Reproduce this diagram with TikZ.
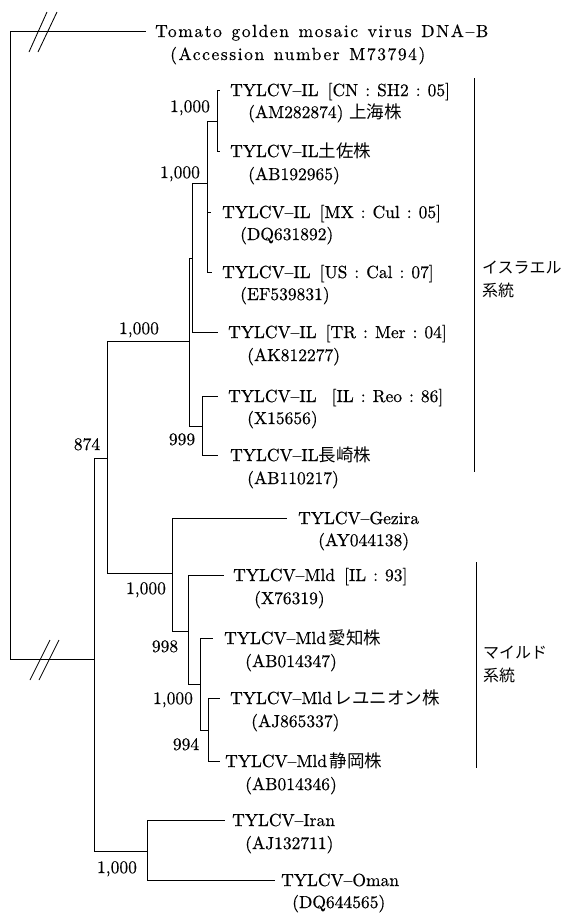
\documentclass[tikz,border=0pt]{standalone}
\usepackage{fontspec}
\newfontfamily\cjk{Noto Sans CJK JP}
\newfontfamily\lmb[FakeBold=0.5]{lmroman10-regular.otf}
\newfontfamily\lmw[FakeBold=0.5,LetterSpace=9,WordSpace=1.3]{lmroman10-regular.otf}
\newcommand{\cl}{\hspace{7pt}:\hspace{7pt}}
\newcommand{\lb}{\hspace{9pt}[}
\newcommand{\rb}{]}
\begin{document}
\begin{tikzpicture}[x=1pt,y=-1pt,
  branch/.style={line width=0.85pt, line join=miter},
  txt/.style={font={\lmb\fontsize{17.5}{21}\selectfont}, inner sep=0pt, text height=12pt, text depth=0pt},
  leaf/.style={txt, anchor=west},
  wide/.style={leaf, font={\lmw\fontsize{17.5}{21}\selectfont}},
  boot/.style={txt, anchor=center},
  tag/.style={txt, anchor=west, font=\cjk\fontsize{16}{21}\selectfont}]
\useasboundingbox (0,0) rectangle (576,913);

% ---------- leaf labels ----------
\node[wide] (tom)   at (155,31)  {Tomato golden mosaic virus DNA–B};
\node[wide] (tomA)  at (170,54)  {(Accession number M73794)};
\node[leaf] (sh2)   at (230,90)  {TYLCV–IL\lb CN\cl SH2\cl 05\rb};
\node[leaf] (sh2A)  at (248,112) {(AM282874)\hspace{6pt}{\cjk 上海株}};
\node[leaf] (tosa)  at (230,151) {TYLCV–IL{\cjk 土佐株}};
\node[leaf] (tosaA) at (248,174) {(AB192965)};
\node[leaf] (mx)    at (222,212) {TYLCV–IL\lb MX\cl Cul\cl 05\rb};
\node[leaf] (mxA)   at (240,234) {(DQ631892)};
\node[leaf] (us)    at (222,272) {TYLCV–IL\lb US\cl Cal\cl 07\rb};
\node[leaf] (usA)   at (240,294) {(EF539831)};
\node[leaf] (tr)    at (228,332) {TYLCV–IL\lb TR\cl Mer\cl 04\rb};
\node[leaf] (trA)   at (247,355) {(AK812277)};
\node[leaf] (reo)   at (228,396) {TYLCV–IL\hspace{6pt}\lb IL\cl Reo\cl 86\rb};
\node[leaf] (reoA)  at (247,418) {(X15656)};
\node[leaf] (naga)  at (230,455) {TYLCV–IL{\cjk 長崎株}};
\node[leaf] (nagaA) at (247,478) {(AB110217)};
\node[leaf] (gez)   at (298,518) {TYLCV–Gezira};
\node[leaf] (gezA)  at (318,540) {(AY044138)};
\node[leaf] (il93)  at (233,575) {TYLCV–Mld\lb IL\cl 93\rb};
\node[leaf] (il93A) at (254,598) {(X76319)};
\node[leaf] (aichi) at (224,638) {TYLCV–Mld\,{\cjk 愛知株}};
\node[leaf] (aichiA)at (245,661) {(AB014347)};
\node[leaf] (reu)   at (230,698) {TYLCV–Mld\,{\cjk レユニオン株}};
\node[leaf] (reuA)  at (251,721) {(AJ865337)};
\node[leaf] (shz)   at (225,761) {TYLCV–Mld\,{\cjk 静岡株}};
\node[leaf] (shzA)  at (245,784) {(AB014346)};
\node[leaf] (iran)  at (232,820) {TYLCV–Iran};
\node[leaf] (iranA) at (245,843) {(AJ132711)};
\node[leaf] (oman)  at (281,880) {TYLCV–Oman};
\node[leaf] (omanA) at (292,902) {(DQ644565)};

% ---------- internal nodes ----------
\coordinate (R) at (10,345);
\coordinate (A) at (94,659);
\coordinate (B) at (107,458);
\coordinate (C) at (189,341);
\coordinate (F) at (192,258);
\coordinate (E) at (207,183);
\coordinate (H) at (217,121);
\coordinate (G) at (202,426);
\coordinate (I) at (172,573);
\coordinate (K) at (188,631);
\coordinate (L) at (200,684);
\coordinate (M) at (208,730);
\coordinate (J) at (147,851);

% ---------- branches ----------
\draw[branch] (R) |- ([xshift=-9pt]tom.west);
\draw[branch] (R) |- (A);
\draw[branch] (A) |- (B);
\draw[branch] (A) |- (J);
\draw[branch] (B) |- (C);
\draw[branch] (B) |- (I);
\draw[branch] (C) |- (F);
\draw[branch] (C) |- (G);
\draw[branch] (F) |- (E);
\draw[branch] (F) |- ([xshift=-10pt]tr.west);
\draw[branch] (E) |- (H);
\draw[branch] (E) |- ([xshift=-11pt]mx.west);
\draw[branch] (E) |- ([xshift=-10pt]us.west);
\draw[branch] (H) |- ([xshift=-10pt]sh2.west);
\draw[branch] (H) |- ([xshift=-10pt]tosa.west);
\draw[branch] (G) |- ([xshift=-10pt]reo.west);
\draw[branch] (G) |- ([xshift=-12pt]naga.west);
\draw[branch] (I) |- ([xshift=-11pt]gez.west);
\draw[branch] (I) |- (K);
\draw[branch] (K) |- ([xshift=-9pt]il93.west);
\draw[branch] (K) |- (L);
\draw[branch] (L) |- ([xshift=-11pt]aichi.west);
\draw[branch] (L) |- (M);
\draw[branch] (M) |- ([xshift=-10pt]reu.west);
\draw[branch] (M) |- ([xshift=-5pt]shz.west);
\draw[branch] (J) |- ([xshift=-7pt]iran.west);
\draw[branch] (J) |- ([xshift=-6pt]oman.west);

% ---------- bootstrap values ----------
\node[boot] (bA) at (87,444)  {874};
\node[boot] (bC) at (139,328) {1,000};
\node[boot] (bF) at (180,172) {1,000};
\node[boot] (bH) at (190,106) {1,000};
\node[boot] (bG) at (182,439) {999};
\node[boot] (bI) at (146,588) {1,000};
\node[boot] (bK) at (165,646) {998};
\node[boot] (bL) at (173,698) {1,000};
\node[boot] (bM) at (186,744) {994};
\node[boot] (bJ) at (117,867) {1,000};

% ---------- break marks ----------
\coordinate (s1a) at (29,52); \coordinate (s1b) at (47,12);
\coordinate (s2a) at (38,52); \coordinate (s2b) at (57,12);
\coordinate (s3a) at (30,680); \coordinate (s3b) at (50,640);
\coordinate (s4a) at (39,680); \coordinate (s4b) at (59,640);
\draw[branch] (s1a) -- (s1b);
\draw[branch] (s2a) -- (s2b);
\draw[branch] (s3a) -- (s3b);
\draw[branch] (s4a) -- (s4b);

% ---------- clade brackets ----------
\coordinate (isT) at (474,78);  \coordinate (isB) at (474,472);
\coordinate (miT) at (476,562); \coordinate (miB) at (476,768);
\draw[branch] (isT) -- (isB);
\draw[branch] (miT) -- (miB);
\node[tag] (is1) at (482,267) {イスラエル};
\node[tag] (is2) at (482,290) {系統};
\node[tag] (mi1) at (483,652) {マイルド};
\node[tag] (mi2) at (483,675) {系統};
\end{tikzpicture}
\end{document}
